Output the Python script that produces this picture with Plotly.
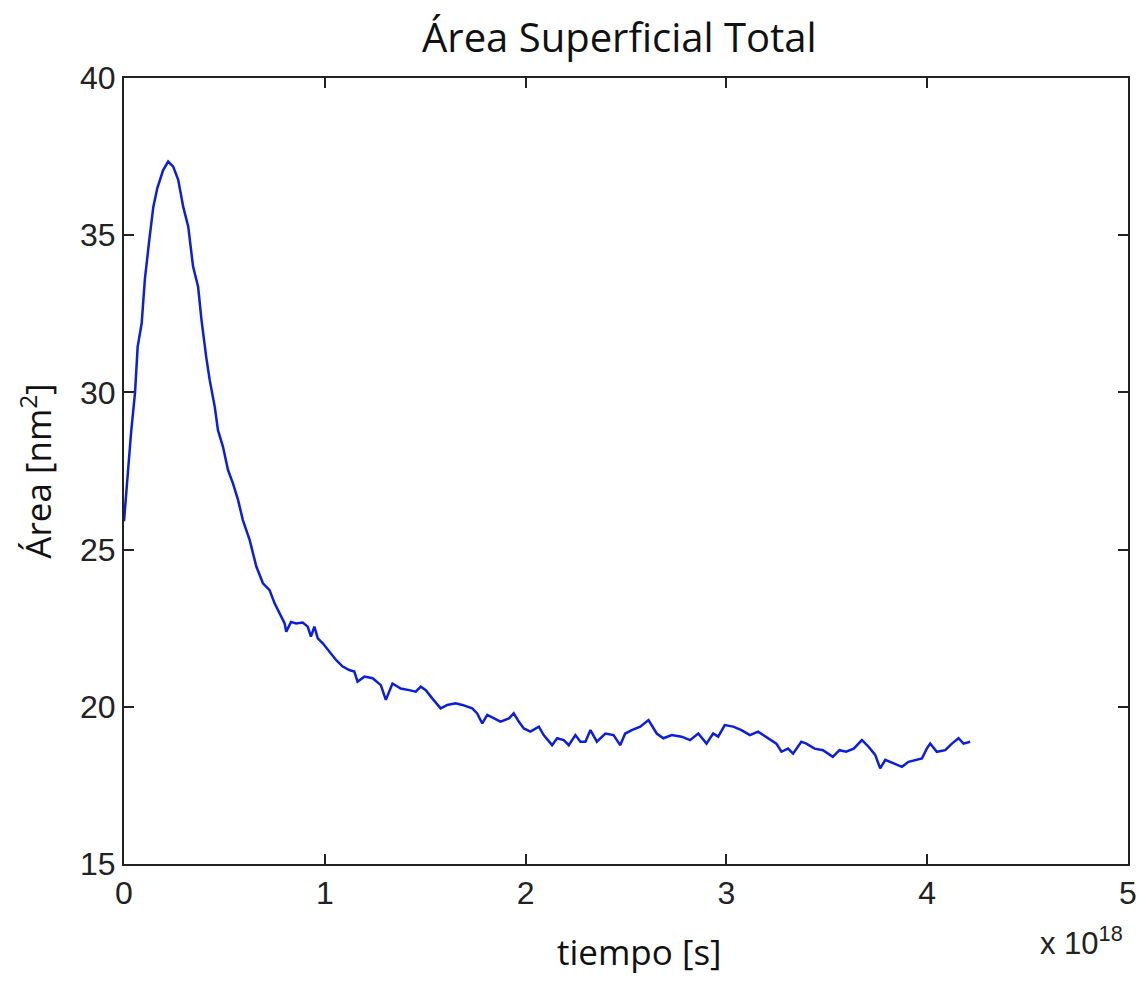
import plotly.graph_objects as go

# tiempo in units of 1e18 s, área in nm^2
tiempo = [
    0.0, 0.013, 0.035, 0.055, 0.068, 0.088, 0.104, 0.126, 0.146, 0.166,
    0.195, 0.22, 0.245, 0.27, 0.295, 0.32, 0.344, 0.369, 0.386, 0.41,
    0.427, 0.452, 0.468, 0.493, 0.518, 0.543, 0.568, 0.592, 0.626, 0.659,
    0.692, 0.725, 0.75, 0.775, 0.80, 0.808, 0.832, 0.857, 0.89, 0.915,
    0.931, 0.948, 0.965, 0.99, 1.023, 1.056, 1.089, 1.122, 1.147, 1.163,
    1.197, 1.238, 1.279, 1.304, 1.337, 1.378, 1.42, 1.453, 1.478, 1.503,
    1.536, 1.577, 1.61, 1.651, 1.685, 1.71, 1.734, 1.759, 1.784, 1.809,
    1.842, 1.875, 1.917, 1.941, 1.966, 1.991, 2.024, 2.066, 2.09, 2.132,
    2.157, 2.19, 2.215, 2.248, 2.273, 2.298, 2.323, 2.355, 2.397, 2.438,
    2.471, 2.496, 2.529, 2.571, 2.612, 2.653, 2.686, 2.728, 2.777, 2.819,
    2.86, 2.901, 2.934, 2.959, 2.992, 3.034, 3.075, 3.117, 3.158, 3.199,
    3.249, 3.274, 3.307, 3.332, 3.373, 3.398, 3.439, 3.481, 3.53, 3.563,
    3.596, 3.634, 3.675, 3.708, 3.741, 3.766, 3.791, 3.833, 3.874, 3.907,
    3.94, 3.974, 3.998, 4.015, 4.048, 4.09, 4.123, 4.156, 4.181, 4.214,
]
area = [
    25.9, 27.0, 28.7, 30.0, 31.45, 32.2, 33.6, 34.85, 35.9, 36.5,
    37.07, 37.34, 37.18, 36.76, 35.9, 35.27, 34.0, 33.36, 32.3, 31.1,
    30.39, 29.54, 28.8, 28.27, 27.53, 27.1, 26.58, 25.94, 25.3, 24.46,
    23.93, 23.71, 23.29, 22.97, 22.65, 22.39, 22.7, 22.65, 22.68, 22.55,
    22.23, 22.55, 22.18, 22.02, 21.75, 21.49, 21.28, 21.17, 21.12, 20.8,
    20.96, 20.91, 20.69, 20.22, 20.74, 20.58, 20.53, 20.48, 20.64, 20.53,
    20.26, 19.95, 20.06, 20.11, 20.06, 20.0, 19.95, 19.79, 19.47, 19.74,
    19.63, 19.53, 19.63, 19.79, 19.53, 19.31, 19.21, 19.37, 19.1, 18.78,
    19.0, 18.94, 18.78, 19.1, 18.89, 18.89, 19.26, 18.89, 19.15, 19.1,
    18.78, 19.15, 19.26, 19.37, 19.58, 19.15, 19.0, 19.1, 19.05, 18.94,
    19.15, 18.83, 19.15, 19.05, 19.42, 19.37, 19.26, 19.1, 19.21, 19.05,
    18.83, 18.57, 18.67, 18.51, 18.89, 18.83, 18.67, 18.62, 18.41, 18.62,
    18.57, 18.67, 18.94, 18.73, 18.47, 18.04, 18.31, 18.2, 18.09, 18.25,
    18.31, 18.36, 18.67, 18.83, 18.57, 18.62, 18.83, 19.0, 18.83, 18.89,
]

x_ticks = [0, 1, 2, 3, 4, 5]
y_ticks = [15, 20, 25, 30, 35, 40]

tick_font = dict(family="Liberation Sans, Arial", size=32, color="#222222")
label_font = dict(family="Open Sans", size=35, color="#111111")

fig = go.Figure()

fig.add_trace(
    go.Scatter(
        x=tiempo,
        y=area,
        mode="lines",
        line=dict(color="rgb(10,30,220)", width=2.5),
        showlegend=False,
    )
)

axis_common = dict(
    showgrid=False,
    zeroline=False,
    showline=True,
    linecolor="#222222",
    linewidth=2,
    mirror="ticks",
    ticks="inside",
    ticklen=10,
    tickwidth=1.5,
    tickcolor="#222222",
    tickfont=tick_font,
    automargin=False,  # keep the plot box exactly where the margins put it
    ticklabeloverflow="allow",  # the last x label sits right at the edge
)

fig.update_xaxes(range=[0, 5], tickvals=x_ticks, **axis_common)
fig.update_yaxes(range=[15, 40], tickvals=y_ticks, **axis_common)

# axis labels and exponent as annotations so they sit where the original has them
fig.add_annotation(
    text="tiempo [s]", xref="paper", yref="paper", x=0.513, y=-0.111,
    xanchor="center", yanchor="middle", showarrow=False, font=label_font,
)
fig.add_annotation(
    text="Área [nm<sup>2</sup>]", xref="paper", yref="paper", x=-0.088, y=0.5,
    xanchor="center", yanchor="middle", textangle=-90, showarrow=False,
    font=label_font,
)
fig.add_annotation(
    text="x 10<sup>18</sup>", xref="paper", yref="paper", x=0.997, y=-0.098,
    xanchor="right", yanchor="middle", showarrow=False,
    font=dict(family="Liberation Sans, Arial", size=31, color="#222222"),
)

# page body adds an 8px margin all round, so keep the figure inside the window
fig.update_layout(
    title=dict(
        text="Área Superficial Total",
        x=0.541, xanchor="center",
        y=0.969, yanchor="middle",
        font=dict(family="Open Sans", size=40, color="#111111"),
    ),
    width=1130,
    height=968,
    margin=dict(l=116, r=10, t=70, b=112),
    plot_bgcolor="white",
    paper_bgcolor="white",
)

fig.write_html("out.html")
